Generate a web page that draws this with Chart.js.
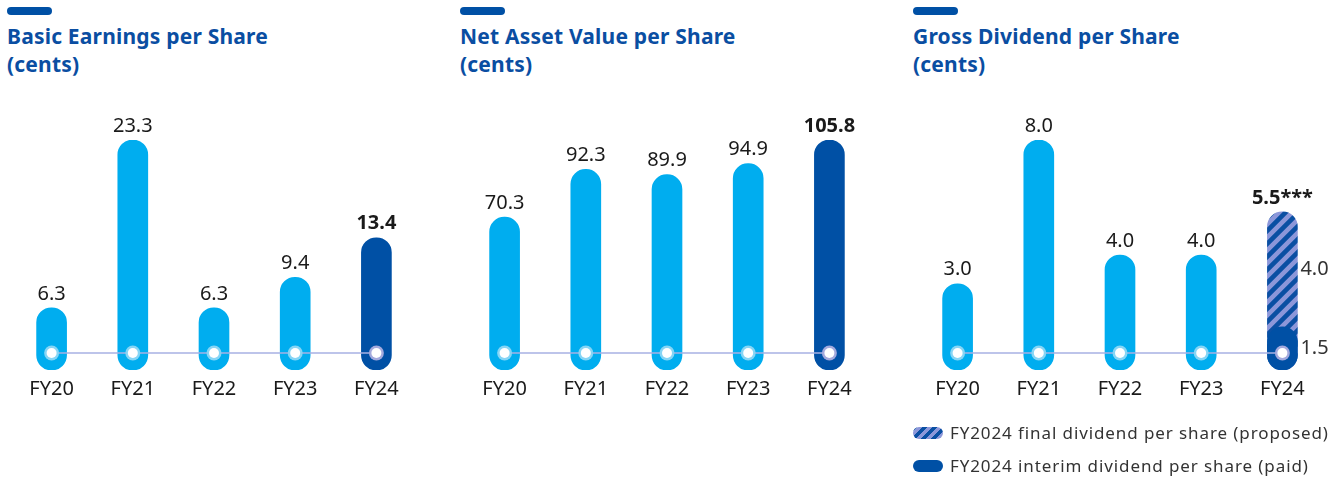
<!DOCTYPE html>
<html>
<head>
<meta charset="utf-8">
<script src="https://cdn.jsdelivr.net/npm/chart.js@4/dist/chart.umd.min.js"></script>
<style>
  body { margin: 0; width: 1330px; height: 479px; overflow: hidden; background: #fff; position: relative; font-family: 'Noto Sans', sans-serif; }
  .pill { position: absolute; top: 7px; width: 45px; height: 8px; border-radius: 4px; background: #0050a5; }
  .title { position: absolute; top: 22px; color: #0a4ea2; font-weight: 700; font-size: 21px; letter-spacing: 0.2px; line-height: 28px; white-space: nowrap; }
  .box { position: absolute; top: 100px; height: 320px; }
  .legend { position: absolute; left: 913px; color: #333; font-size: 17px; letter-spacing: 0.9px; white-space: nowrap; }
  .legend div { height: 33px; display: flex; align-items: center; }
  .legend i { display: inline-block; width: 30px; height: 12px; border-radius: 6px; margin-right: 7px; }
  .hatch { background: repeating-linear-gradient(135deg, #0a4fa3 0 3.5px, #8c97d9 3.5px 7px); }
  .solid { background: #0050a5; }
</style>
</head>
<body>
  <div class="pill" style="left:7px"></div>
  <div class="title" style="left:7px">Basic Earnings per Share<br>(cents)</div>
  <div class="pill" style="left:460px"></div>
  <div class="title" style="left:460px">Net Asset Value per Share<br>(cents)</div>
  <div class="pill" style="left:913px"></div>
  <div class="title" style="left:913px">Gross Dividend per Share<br>(cents)</div>

  <div class="box" style="left:11px;width:406px"><canvas id="eps"></canvas></div>
  <div class="box" style="left:464px;width:406px"><canvas id="nav"></canvas></div>
  <div class="box" style="left:917px;width:413px"><canvas id="dps"></canvas></div>

  <div class="legend" style="top:416px">
    <div><i class="hatch"></i>FY2024 final dividend per share (proposed)</div>
    <div><i class="solid"></i>FY2024 interim dividend per share (paid)</div>
  </div>

<script>
  const years = ['FY20', 'FY21', 'FY22', 'FY23', 'FY24'];
  const epsValues = [6.3, 23.3, 6.3, 9.4, 13.4];
  const navValues = [70.3, 92.3, 89.9, 94.9, 105.8];
  const dpsInterim = [3.0, 8.0, 4.0, 4.0, 1.5];
  const dpsFinal = [null, null, null, null, 4.0];
  const dpsTopLabels = ['3.0', '8.0', '4.0', '4.0', '5.5***'];

  const CYAN = '#00adef';
  const NAVY = '#0050a5';
  const radius = { topLeft: 15, topRight: 15, bottomLeft: 15, bottomRight: 15 };

  function hatchPattern() {
    const s = 13;
    const c = document.createElement('canvas');
    c.width = s; c.height = s;
    const g = c.getContext('2d');
    g.fillStyle = '#8c97d9';
    g.fillRect(0, 0, s, s);
    g.strokeStyle = '#0a4fa3';
    g.lineWidth = 4.6;
    g.beginPath();
    g.moveTo(-s / 2, s / 2); g.lineTo(s / 2, -s / 2);
    g.moveTo(0, s); g.lineTo(s, 0);
    g.moveTo(s / 2, s * 1.5); g.lineTo(s * 1.5, s / 2);
    g.stroke();
    return g.createPattern(c, 'repeat');
  }

  const colorsFor = (n) => years.map((_, i) => (i === n - 1 ? NAVY : CYAN));

  // dots on the baseline, value labels above bars
  const markers = {
    id: 'markers',
    afterDatasetsDraw(chart, args, opts) {
      const { ctx, scales: { x, y } } = chart;
      const n = chart.data.labels.length;
      const yLine = y.getPixelForValue(0) - 17;
      ctx.save();
      ctx.strokeStyle = '#a7b0e3';
      ctx.lineWidth = 1.5;
      ctx.beginPath();
      ctx.moveTo(x.getPixelForValue(0), yLine);
      ctx.lineTo(x.getPixelForValue(n - 1), yLine);
      ctx.stroke();
      for (let i = 0; i < n; i++) {
        const cx = x.getPixelForValue(i);
        ctx.fillStyle = i === n - 1 ? '#a3a9dd' : '#86d5f5';
        ctx.beginPath(); ctx.arc(cx, yLine, 7.5, 0, Math.PI * 2); ctx.fill();
        ctx.fillStyle = '#fff';
        ctx.beginPath(); ctx.arc(cx, yLine, 5, 0, Math.PI * 2); ctx.fill();

        let total = 0;
        chart.data.datasets.forEach((d) => { total += d.data[i] || 0; });
        const text = opts.labels ? opts.labels[i] : total.toFixed(1);
        ctx.fillStyle = '#1a1a1a';
        ctx.font = (i === n - 1 ? '700 ' : '400 ') + '20px "Noto Sans"';
        ctx.textAlign = 'center';
        ctx.textBaseline = 'middle';
        ctx.fillText(text, cx, y.getPixelForValue(total) - 14);

        if (opts.side && chart.data.datasets.length > 1 && chart.data.datasets[1].data[i] != null) {
          const a = chart.data.datasets[0].data[i];
          const b = chart.data.datasets[1].data[i];
          ctx.font = '400 20px "Noto Sans"';
          ctx.textAlign = 'left';
          ctx.fillStyle = '#333';
          ctx.fillText(b.toFixed(1), cx + 18, y.getPixelForValue(a + b / 2));
          ctx.fillText(a.toFixed(1), cx + 18, y.getPixelForValue(a / 2));
        }
      }
      ctx.restore();
    }
  };

  function options(max, extra, stacked) {
    return {
      responsive: true,
      maintainAspectRatio: false,
      animation: false,
      layout: { padding: { top: 40, bottom: 20, left: 0, right: stacked ? 7 : 0 } },
      plugins: { legend: { display: false }, tooltip: { enabled: false }, markers: extra },
      scales: {
        x: {
          stacked: !!stacked,
          grid: { display: false },
          border: { display: false },
          ticks: { color: '#1a1a1a', font: { family: 'Noto Sans', size: 20 }, padding: -1 }
        },
        y: { stacked: !!stacked, display: false, min: 0, max: max }
      }
    };
  }

  new Chart(document.getElementById('eps'), {
    type: 'bar',
    data: { labels: years, datasets: [{ data: epsValues, backgroundColor: colorsFor(5), borderRadius: radius, borderSkipped: false, barThickness: 30 }] },
    options: options(23.3, {}),
    plugins: [markers]
  });

  new Chart(document.getElementById('nav'), {
    type: 'bar',
    data: { labels: years, datasets: [{ data: navValues, backgroundColor: colorsFor(5), borderRadius: radius, borderSkipped: false, barThickness: 30 }] },
    options: options(105.8, {}),
    plugins: [markers]
  });

  new Chart(document.getElementById('dps'), {
    type: 'bar',
    data: {
      labels: years,
      datasets: [
        { label: 'FY2024 interim dividend per share (paid)', data: dpsInterim, backgroundColor: colorsFor(5), borderRadius: radius, borderSkipped: false, barThickness: 30 },
        { label: 'FY2024 final dividend per share (proposed)', data: dpsFinal, base: 0, backgroundColor: hatchPattern(), borderRadius: radius, borderSkipped: false, barThickness: 30 }
      ]
    },
    options: options(8, { labels: dpsTopLabels, side: true }, true),
    plugins: [markers]
  });
</script>
</body>
</html>
